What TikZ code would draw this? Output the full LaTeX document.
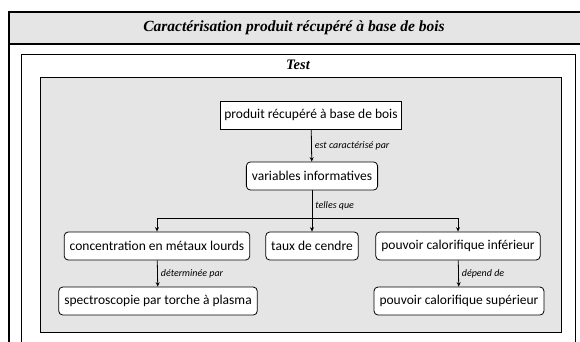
\documentclass[tikz,border=0pt]{standalone}
\usepackage{fontspec}
\setmainfont{Carlito}
\newfontfamily\titlefont{Liberation Serif}
\usetikzlibrary{arrows.meta}
\definecolor{panelgray}{RGB}{229,229,229}

\begin{document}
\begin{tikzpicture}[x=1pt, y=-1pt, font=\fontsize{13.5}{15}\selectfont,
  Box/.style={fill=white, draw, line width=0.8pt, minimum height=28pt, inner xsep=5.5pt},
  RoundBox/.style={Box, rounded corners=4pt},
  Link/.style={-{Stealth[length=4.5pt, width=4pt]}, line width=0.8pt},
  LinkLabel/.style={right, font=\fontsize{10}{11}\itshape\selectfont, inner xsep=3pt}]

\useasboundingbox (0,0) rectangle (580,341);

\begin{scope}
\clip (0,0) rectangle (580,341);
% frames
\fill [white] (9,12) rectangle (600,360);
\fill [panelgray] (9,12) rectangle (600,44);
\draw [line width=1.8pt] (600,12) -- (9,12) -- (9,360);
\draw [line width=1.2pt] (9,44) -- (600,44);
\draw [line width=0.8pt] (21,360) -- (21,54) -- (575,54) -- (575,360);
\end{scope}

\node (title) at (294,28) {\titlefont\bfseries\itshape\fontsize{15.5}{17}\selectfont Caractérisation produit récupéré à base de bois};
\node (test) at (298,65) {\titlefont\bfseries\itshape\fontsize{14.5}{16}\selectfont Test};

\draw [fill=panelgray, line width=0.8pt] (40,77) rectangle (561,332);

\node [Box, inner xsep=4pt] (prod) at (311,115) {produit récupéré à base de bois};
\node [RoundBox] (vars) at (312,176) {variables informatives};

\node [RoundBox] (metaux) at (157,246) {concentration en métaux lourds};
\node [RoundBox] (cendre) at (312,246) {taux de cendre};
\node [RoundBox] (pci) at (458,246) {pouvoir calorifique inférieur};

\node [RoundBox] (spectro) at (158,301) {spectroscopie par torche à plasma};
\node [RoundBox] (pcs) at (459,301) {pouvoir calorifique supérieur};

\coordinate (split) at (312,218);

\draw [Link] (prod) -- node [LinkLabel] {est caractérisé par} (vars);
\draw [line width=0.8pt] (vars) -- node [LinkLabel, pos=0.55] {telles que} (split);
\draw [Link] (split) -- (cendre);
\draw [Link] (split) -| (metaux);
\draw [Link] (split) -| (pci);

\draw [Link] (metaux) -- node [LinkLabel] {déterminée par} (spectro);
\draw [Link] (pci) -- node [LinkLabel] {dépend de} (pcs);
\end{tikzpicture}
\end{document}
